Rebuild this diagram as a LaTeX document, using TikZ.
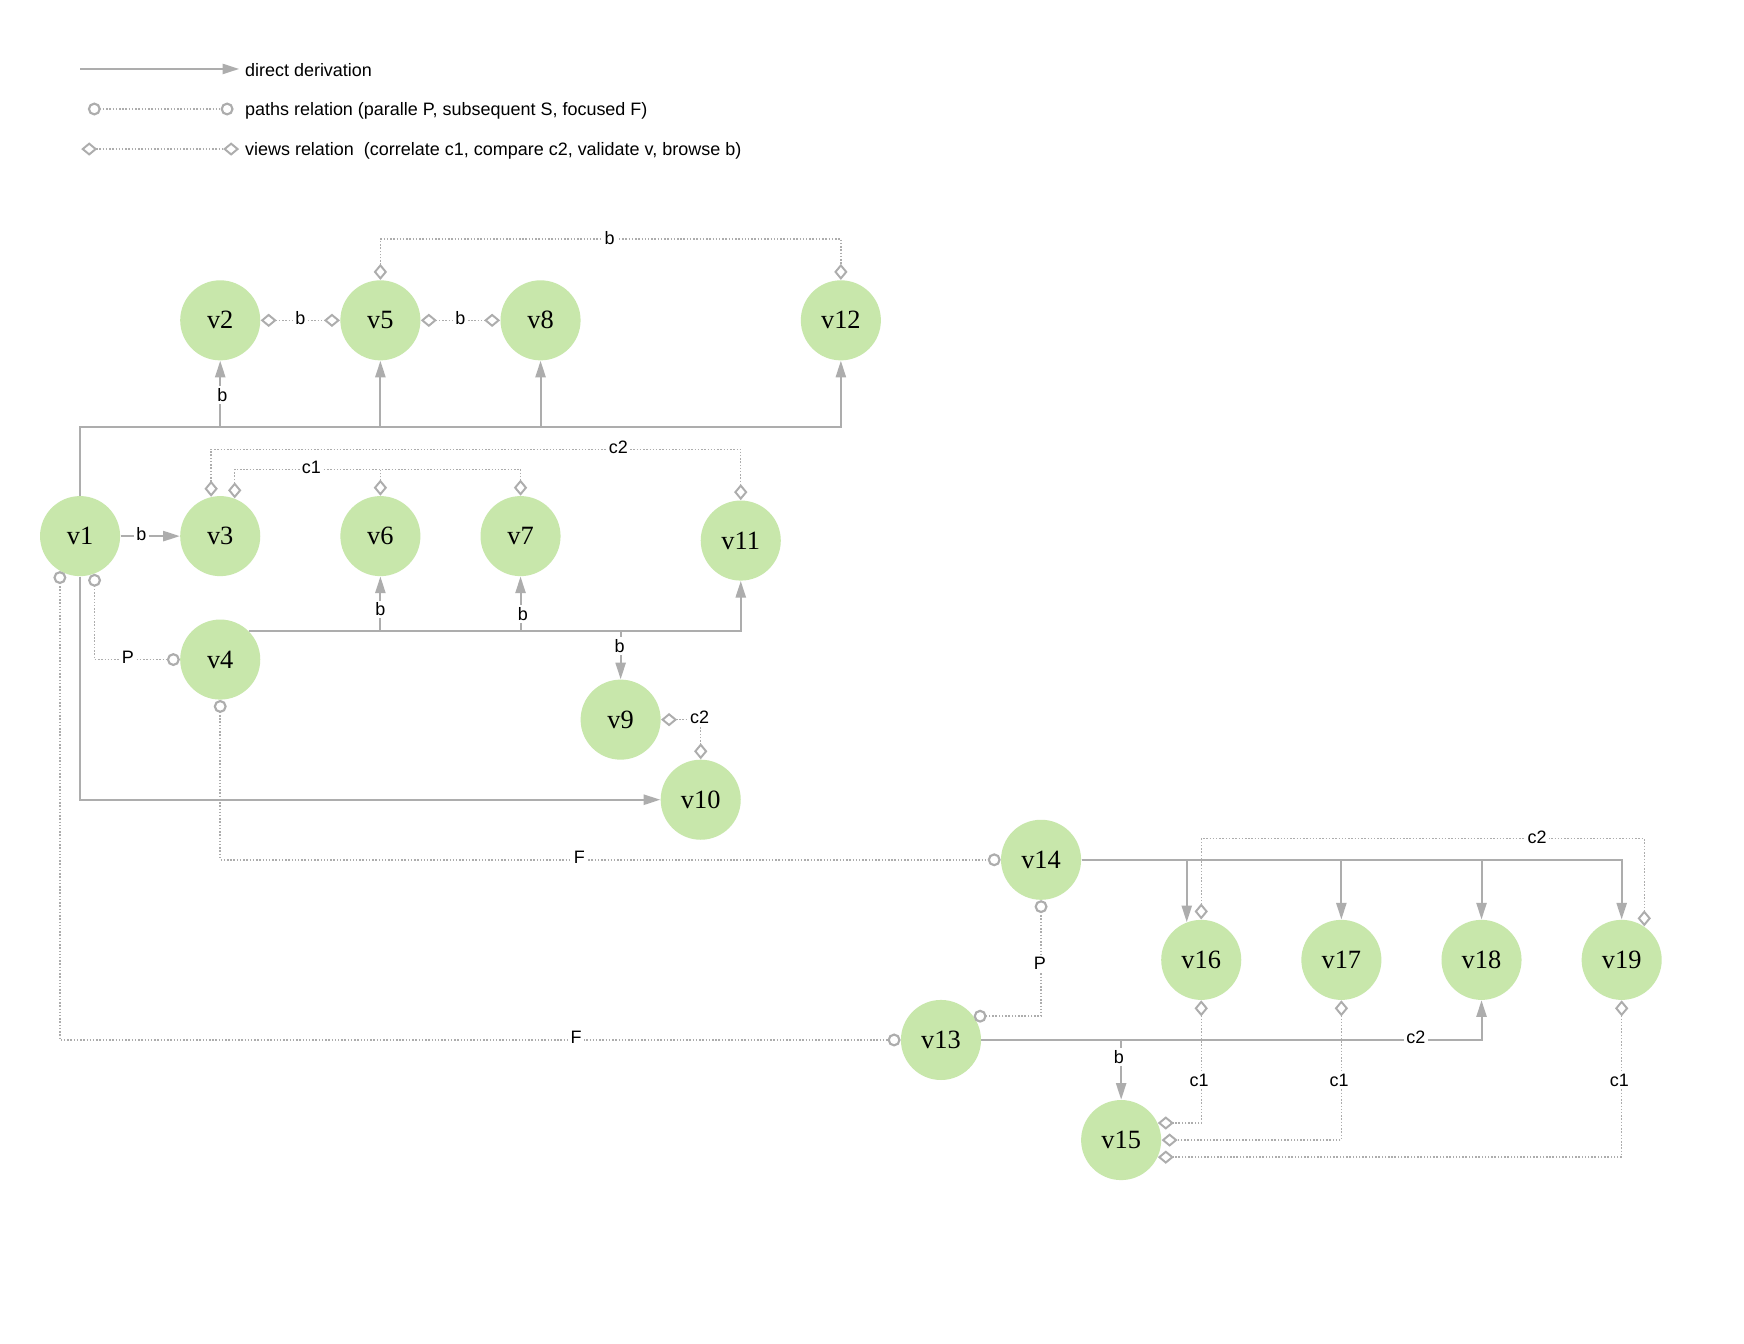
\documentclass[tikz,border=0pt]{standalone}
\usepackage{fontspec}
\setmainfont{Liberation Serif}
\newfontfamily\labelfont{Liberation Sans}
\usetikzlibrary{arrows.meta}
\definecolor{nodegreen}{HTML}{C8E7AB}
\definecolor{linegray}{HTML}{ADADAD}
\tikzset{
  vnode/.style={circle, fill=nodegreen, minimum size=1.44cm, inner sep=0pt,
    font=\fontsize{13.5}{15}\selectfont},
  deriv/.style={draw=linegray, line width=1pt,
    -{Triangle[length=8.5pt,width=5.2pt]}},
  dotline/.style={draw=linegray, line width=0.75pt, dash pattern=on 0.75pt off 0.9pt},
  ctip/.tip={Circle[open,length=6.6pt,line width=1.1pt]},
  dtip/.tip={Diamond[open,length=8.2pt,width=6.8pt,line width=1pt]},
  pathrel/.style={dotline, ctip-ctip},
  viewrel/.style={dotline, dtip-dtip},
  viewend/.style={dotline, dtip-},
  lbl/.style={fill=white, inner sep=1.2pt, font=\labelfont\fontsize{9.2}{11}\selectfont},
  legendtext/.style={anchor=west, inner sep=0pt, font=\labelfont\fontsize{9.2}{11}\selectfont}
}
\begin{document}
\begin{tikzpicture}[x=0.02cm, y=-0.02cm]
  \fill[white] (0,0) rectangle (1568,1208);
  \useasboundingbox (0,0) rectangle (1568,1208);

  % legend
  \coordinate (la1) at (72,62);   \coordinate (la2) at (215,62);
  \coordinate (lb1) at (79,98);   \coordinate (lb2) at (210,98);
  \coordinate (lc1) at (73,134);  \coordinate (lc2) at (215,134);
  \draw[deriv] (la1) -- (la2);
  \draw[pathrel] (lb1) -- (lb2);
  \draw[viewrel] (lc1) -- (lc2);
  \node[legendtext] (lt1) at (220,63) {direct derivation};
  \node[legendtext] (lt2) at (220,99.5) {paths relation (paralle P, subsequent S, focused F)};
  \node[legendtext] (lt3) at (220,135.5) {views relation\ \ (correlate c1, compare c2, validate v, browse b)};

  % views
  \node[vnode] (v1)  at (72,482)   {v1};
  \node[vnode] (v2)  at (198,288)  {v2};
  \node[vnode] (v3)  at (198,482)  {v3};
  \node[vnode] (v4)  at (198,593)  {v4};
  \node[vnode] (v5)  at (342,288)  {v5};
  \node[vnode] (v6)  at (342,482)  {v6};
  \node[vnode] (v7)  at (468,482)  {v7};
  \node[vnode] (v8)  at (486,288)  {v8};
  \node[vnode] (v9)  at (558,647)  {v9};
  \node[vnode] (v10) at (630,719)  {v10};
  \node[vnode] (v11) at (666,486)  {v11};
  \node[vnode] (v12) at (756,288)  {v12};
  \node[vnode] (v13) at (846,935)  {v13};
  \node[vnode] (v14) at (936,773)  {v14};
  \node[vnode] (v15) at (1008,1025) {v15};
  \node[vnode] (v16) at (1080,863) {v16};
  \node[vnode] (v17) at (1206,863) {v17};
  \node[vnode] (v18) at (1332,863) {v18};
  \node[vnode] (v19) at (1458,863) {v19};

  % bus levels
  \coordinate (busA) at (0,384);
  \coordinate (topB) at (0,215);
  \coordinate (c2A)  at (0,404);
  \coordinate (c1A)  at (0,422);
  \coordinate (c2B)  at (0,754);

  % direct derivations
  \draw[deriv] (v1.east) -- (v3.west);
  \draw[deriv] (v1.north) -- (v1.north |- busA) -| (v2.south);
  \draw[deriv] (v1.north) -- (v1.north |- busA) -| (v5.south);
  \draw[deriv] (v1.north) -- (v1.north |- busA) -| (v8.south);
  \draw[deriv] (v1.north) -- (v1.north |- busA) -| (v12.south);
  \draw[deriv] (v1.south) |- (v10.west);
  \draw[deriv] (v4.45) -| (v6.south);
  \draw[deriv] (v4.45) -| (v7.south);
  \draw[deriv] (v4.45) -| (v9.north);
  \draw[deriv] (v4.45) -| (v11.south);
  \draw[deriv] (v14.east) -| (v16.111);
  \draw[deriv] (v14.east) -| (v17.north);
  \draw[deriv] (v14.east) -| (v18.north);
  \draw[deriv] (v14.east) -| (v19.north);
  \draw[deriv] (v13.east) -| (v18.south);
  \draw[deriv] (v13.east) -| (v15.north);

  % paths relations
  \draw[pathrel] (v1.-69) |- (v4.west);
  \draw[pathrel] (v4.south) |- (v14.west);
  \draw[pathrel] (v1.-120) |- (v13.west);
  \draw[pathrel] (v14.south) |- (v13.36);

  % views relations
  \draw[viewrel] (v2.east) -- (v5.west);
  \draw[viewrel] (v5.east) -- (v8.west);
  \draw[viewrel] (v5.north) -- (v5.north |- topB) -| (v12.north);
  \draw[viewrel] (v3.103) -- (v3.103 |- c2A) -| (v11.north);
  \draw[viewrel] (v3.69) -- (v3.69 |- c1A) -| (v7.north);
  \draw[viewend] (v6.north) -- (v6.north |- c1A);
  \draw[viewrel] (v9.east) -| (v10.north);
  \draw[viewrel] (v16.north) -- (v16.north |- c2B) -| (v19.56);
  \draw[viewrel] (v16.south) |- (v15.25);
  \draw[viewrel] (v17.south) |- (v15.east);
  \draw[viewrel] (v19.south) |- (v15.-25);

  % connector labels
  \node[lbl] (l1)  at (127,480)  {b};
  \node[lbl] (l2)  at (200,355)  {b};
  \node[lbl] (l3)  at (270,286)  {b};
  \node[lbl] (l4)  at (414,286)  {b};
  \node[lbl] (l5)  at (548,214)  {b};
  \node[lbl] (l6)  at (556,402)  {c2};
  \node[lbl] (l7)  at (280,420)  {c1};
  \node[lbl] (l8)  at (342,548)  {b};
  \node[lbl] (l9)  at (470,552)  {b};
  \node[lbl] (l10) at (557,581)  {b};
  \node[lbl] (l11) at (115,591)  {P};
  \node[lbl] (l12) at (629,645)  {c2};
  \node[lbl] (l13) at (521,771)  {F};
  \node[lbl] (l14) at (1382,753) {c2};
  \node[lbl] (l15) at (935,866)  {P};
  \node[lbl] (l16) at (518,933)  {F};
  \node[lbl] (l17) at (1006,950) {b};
  \node[lbl] (l18) at (1273,933) {c2};
  \node[lbl] (l19) at (1078,971) {c1};
  \node[lbl] (l20) at (1204,971) {c1};
  \node[lbl] (l21) at (1456,971) {c1};
\end{tikzpicture}
\end{document}
